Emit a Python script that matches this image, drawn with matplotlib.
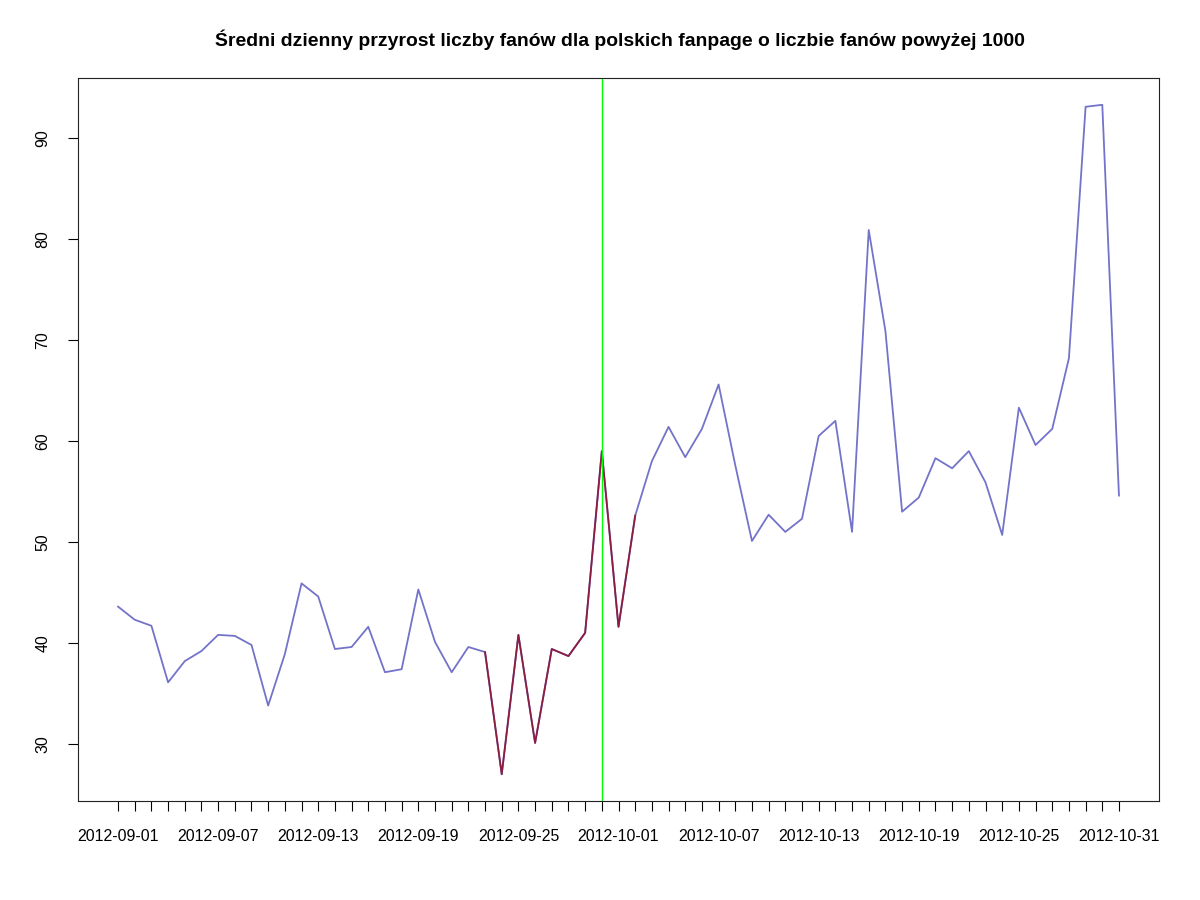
import matplotlib
matplotlib.use("Agg")
import matplotlib.pyplot as plt
import numpy as np
import pandas as pd

plt.rcParams['font.family'] = ['Liberation Sans', 'DejaVu Sans']

title = "Średni dzienny przyrost liczby fanów dla polskich fanpage o liczbie fanów powyżej 1000"

dates = pd.date_range("2012-09-01", "2012-10-31", freq="D")
values = [43.6, 42.3, 41.7, 36.1, 38.2, 39.2, 40.8, 40.7, 39.8, 33.8,
          38.9, 45.9, 44.6, 39.4, 39.6, 41.6, 37.1, 37.4, 45.3, 40.1,
          37.1, 39.6, 39.1, 27.0, 40.8, 30.1, 39.4, 38.7, 41.0, 59.0,
          41.6, 52.6, 58.0, 61.4, 58.4, 61.2, 65.6, 57.6, 50.1, 52.7,
          51.0, 52.3, 60.5, 62.0, 51.0, 80.9, 70.9, 53.0, 54.4, 58.3,
          57.3, 59.0, 55.9, 50.7, 63.3, 59.6, 61.2, 68.2, 93.1, 93.3,
          54.6]
highlight_start = "2012-09-23"
highlight_end = "2012-10-02"
vline_date = "2012-09-30"
label_every = 6

s = pd.Series(values, index=dates)
x = np.arange(len(dates))

fig = plt.figure(figsize=(12, 9), dpi=100)
ax = fig.add_axes([78/1200, 1-801/900, (1159-78)/1200, (801-78)/900])

ax.plot(x, s.values, color='#7373C9', lw=1.3)
mask = (dates >= highlight_start) & (dates <= highlight_end)
ax.plot(x[mask], s.values[mask], color='#8C1D40', lw=1.3)
ax.axvline(int(np.where(dates == pd.Timestamp(vline_date))[0][0]), color='#00FF00', lw=1)

n = len(x)
pad = 0.04 * (n - 1)
ax.set_xlim(-pad, n - 1 + pad)
ymin, ymax = min(values), max(values)
yp = 0.04 * (ymax - ymin)
ax.set_ylim(ymin - yp, ymax + yp)

ax.set_xticks(x)
ax.set_xticklabels([d.strftime("%Y-%m-%d") if i % label_every == 0 else "" for i, d in enumerate(dates)])
ax.set_yticks([30, 40, 50, 60, 70, 80, 90])
ax.tick_params(axis='both', length=7, width=0.8, labelsize=11.4, pad=13, colors='black')
ax.tick_params(axis='y', labelrotation=90)
for lbl in ax.get_yticklabels():
    lbl.set_verticalalignment('center')
for sp in ax.spines.values():
    sp.set_linewidth(0.8)
    sp.set_color('#222222')

fig.text(620/1200, 1-40/900, title, ha='center', va='center', fontsize=13.95, fontweight='bold')

fig.savefig("out.png", dpi=100)
